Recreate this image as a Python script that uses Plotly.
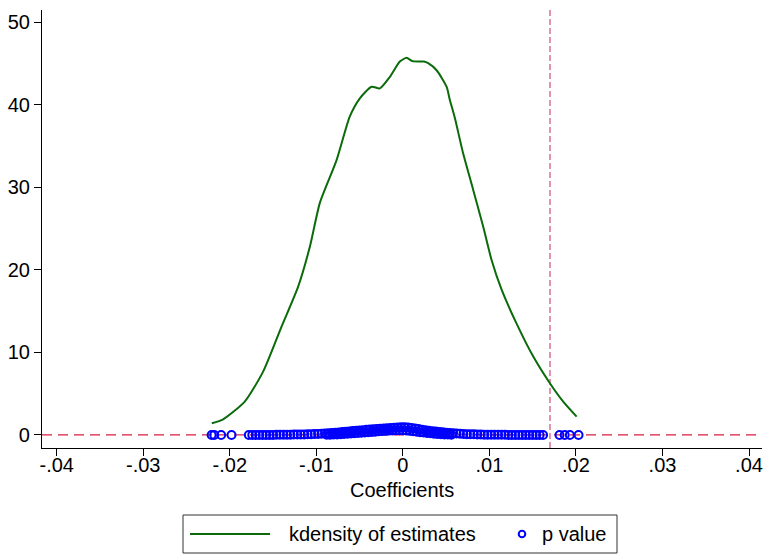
import plotly.graph_objects as go

# ---- kdensity of estimates ----
kd_x = [-0.02208, -0.02077, -0.01827, -0.01615, -0.01402, -0.01210, -0.01075, -0.00960,
        -0.00766, -0.00613, -0.00497, -0.00362, -0.00266, -0.00150, -0.00035, 0.00043,
        0.00112, 0.00243, 0.00292, 0.00390, 0.00505, 0.00543, 0.00601, 0.00697, 0.00813,
        0.00928, 0.01025, 0.01141, 0.01314, 0.01507, 0.01699, 0.01853, 0.02008]
kd_y = [1.42, 1.90, 4.04, 7.67, 13.13, 17.98, 22.8, 28.1,
        33.3, 38.6, 40.8, 42.2, 42.0, 43.4, 45.25, 45.7,
        45.3, 45.25, 45.05, 44.2, 42.2, 40.6, 38.4, 34.1, 29.7,
        25.25, 21.2, 17.6, 13.5, 9.5, 6.27, 4.04, 2.22]

# ---- p values of estimates ----
pv_x = [-0.0221, -0.0218, -0.0210, -0.0198, -0.0178,
        -0.0174, -0.0170, -0.0166, -0.0162, -0.0158, -0.0154, -0.0150, -0.0146, -0.0142, -0.0138,
        -0.0134, -0.0130, -0.0126, -0.0122, -0.0118, -0.0114, -0.0110, -0.0106, -0.0102, -0.0098,
        -0.0094, -0.0090, -0.0086, -0.0082, -0.0078, -0.0074, -0.0070, -0.0066, -0.0062, -0.0058,
        -0.0054, -0.0050, -0.0046, -0.0042, -0.0038, -0.0034, -0.0030, -0.0026, -0.0022, -0.0018,
        -0.0014, -0.0010, -0.0006, -0.0002, 0.0002, 0.0006, 0.0010, 0.0014, 0.0018, 0.0022,
        0.0026, 0.0030, 0.0034, 0.0038, 0.0042, 0.0046, 0.0050, 0.0054, 0.0058, 0.0062,
        0.0066, 0.0070, 0.0074, 0.0078, 0.0082, 0.0086, 0.0090, 0.0094, 0.0098, 0.0102,
        0.0106, 0.0110, 0.0114, 0.0118, 0.0122, 0.0126, 0.0130, 0.0134, 0.0138, 0.0142,
        0.0146, 0.0150, 0.0154, 0.0158, 0.0162,
        -0.0088, -0.0084, -0.0080, -0.0076, -0.0072, -0.0068, -0.0064, -0.0060, -0.0056, -0.0052,
        -0.0048, -0.0044, -0.0040, -0.0036, -0.0032, -0.0028, -0.0024, -0.0020, -0.0016, -0.0012,
        -0.0008, -0.0004, 0.0000, 0.0004, 0.0008, 0.0012, 0.0016, 0.0020, 0.0024, 0.0028,
        0.0032, 0.0036, 0.0040, 0.0044, 0.0048, 0.0052, 0.0056,
        0.0181, 0.0187, 0.0193, 0.0203]
pv_y = [0.00, 0.00, 0.00, 0.00, 0.00,
        0.00, 0.00, 0.00, 0.01, 0.01, 0.01, 0.01, 0.02, 0.02, 0.03,
        0.03, 0.04, 0.05, 0.06, 0.06, 0.07, 0.08, 0.10, 0.11, 0.13,
        0.15, 0.17, 0.20, 0.23, 0.27, 0.31, 0.35, 0.39, 0.43, 0.47,
        0.51, 0.55, 0.58, 0.62, 0.66, 0.69, 0.72, 0.75, 0.78, 0.82,
        0.85, 0.87, 0.90, 0.93, 0.94, 0.90, 0.85, 0.78, 0.71, 0.64,
        0.58, 0.52, 0.46, 0.41, 0.36, 0.32, 0.28, 0.24, 0.21, 0.18,
        0.15, 0.12, 0.10, 0.09, 0.08, 0.07, 0.05, 0.04, 0.04, 0.03,
        0.03, 0.02, 0.02, 0.02, 0.01, 0.01, 0.01, 0.01, 0.01, 0.00,
        0.00, 0.00, 0.00, 0.00, 0.00,
        0.02, 0.03, 0.05, 0.07, 0.09, 0.11, 0.14, 0.17, 0.20, 0.23,
        0.27, 0.30, 0.33, 0.37, 0.40, 0.44, 0.47, 0.50, 0.53, 0.55,
        0.57, 0.58, 0.58, 0.55, 0.50, 0.45, 0.40, 0.34, 0.29, 0.24,
        0.20, 0.16, 0.13, 0.10, 0.07, 0.05, 0.03,
        0.00, 0.00, 0.00, 0.00]

x_ticks = [-0.04, -0.03, -0.02, -0.01, 0, 0.01, 0.02, 0.03, 0.04]
x_tick_labels = ["-.04", "-.03", "-.02", "-.01", "0", ".01", ".02", ".03", ".04"]
y_ticks = [0, 10, 20, 30, 40, 50]
y_tick_labels = ["0", "10", "20", "30", "40", "50"]

legend_labels = ["kdensity of estimates", "p value"]

true_coef = 0.0170
ref_y = 0

FONT = "Arial, 'Liberation Sans', sans-serif"
GREEN = "#0b6b0b"
BLUE = "#0000ff"

# plot area in pixels: x 42..762, y 10..448
L, R, T, B = 42, 762, 10, 448
W, H = 765, 554


def px(xp):
    return (xp - L) / (R - L)


def py(yp):
    return (B - yp) / (B - T)


fig = go.Figure()
fig.add_trace(go.Scatter(x=kd_x, y=kd_y, mode="lines", name=legend_labels[0],
                         line=dict(color=GREEN, width=2, shape="spline", smoothing=0.6)))
fig.add_trace(go.Scatter(x=pv_x, y=pv_y, mode="markers", name=legend_labels[1],
                         marker=dict(symbol="circle-open", size=8, color=BLUE,
                                     line=dict(width=2, color=BLUE))))

fig.add_shape(type="line", xref="paper", yref="y", x0=0, x1=1, y0=ref_y, y1=ref_y,
              line=dict(color="#d81e46", width=1.2, dash="10px,6px"), layer="below")
fig.add_shape(type="line", xref="x", yref="paper", x0=true_coef, x1=true_coef, y0=0, y1=1,
              line=dict(color="#db7093", width=1.5, dash="6px,3px"), layer="below")

# ---- legend box (drawn below the plot, as in the reference) ----
fig.add_shape(type="rect", xref="paper", yref="paper",
              x0=px(183), x1=px(617), y0=py(553), y1=py(515),
              line=dict(color="#333333", width=1), fillcolor="white")
fig.add_shape(type="line", xref="paper", yref="paper",
              x0=px(190), x1=px(270), y0=py(534), y1=py(534),
              line=dict(color=GREEN, width=2))
fig.add_shape(type="circle", xref="paper", yref="paper",
              xsizemode="pixel", ysizemode="pixel",
              xanchor=px(522), yanchor=py(534), x0=-3.3, x1=3.3, y0=-3.3, y1=3.3,
              line=dict(color=BLUE, width=2))
fig.add_annotation(xref="paper", yref="paper", x=px(287), y=py(534), text=legend_labels[0],
                   showarrow=False, xanchor="left", yanchor="middle",
                   font=dict(size=20, family=FONT, color="black"))
fig.add_annotation(xref="paper", yref="paper", x=px(609), y=py(534), text=legend_labels[1],
                   showarrow=False, xanchor="right", yanchor="middle",
                   font=dict(size=20, family=FONT, color="black"))
fig.add_annotation(xref="paper", yref="paper", x=px(402), y=py(490), text="Coefficients",
                   showarrow=False, xanchor="center", yanchor="middle",
                   font=dict(size=20, family=FONT, color="black"))

fig.update_layout(
    width=W, height=H,
    margin=dict(l=L, r=W - R, t=T, b=H - B),
    paper_bgcolor="white", plot_bgcolor="white",
    font=dict(family=FONT, size=20, color="black"),
    showlegend=False,
)
fig.update_xaxes(range=[-0.0417, 0.0415], tickvals=x_ticks, ticktext=x_tick_labels,
                 showgrid=False, zeroline=False, showline=True, linecolor="black", linewidth=1.2,
                 ticks="outside", ticklen=7, tickcolor="black", tickfont=dict(size=20),
                 ticklabelstandoff=-8, automargin=False)
fig.update_yaxes(range=[-1.58, 51.5], tickvals=y_ticks, ticktext=y_tick_labels,
                 showgrid=False, zeroline=False, showline=True, linecolor="black", linewidth=1.2,
                 ticks="outside", ticklen=7, tickcolor="black", tickfont=dict(size=20),
                 automargin=False)

fig.write_html("out.html", config={"displayModeBar": False},
               post_script="document.body.style.margin='0';document.body.style.padding='0';")
